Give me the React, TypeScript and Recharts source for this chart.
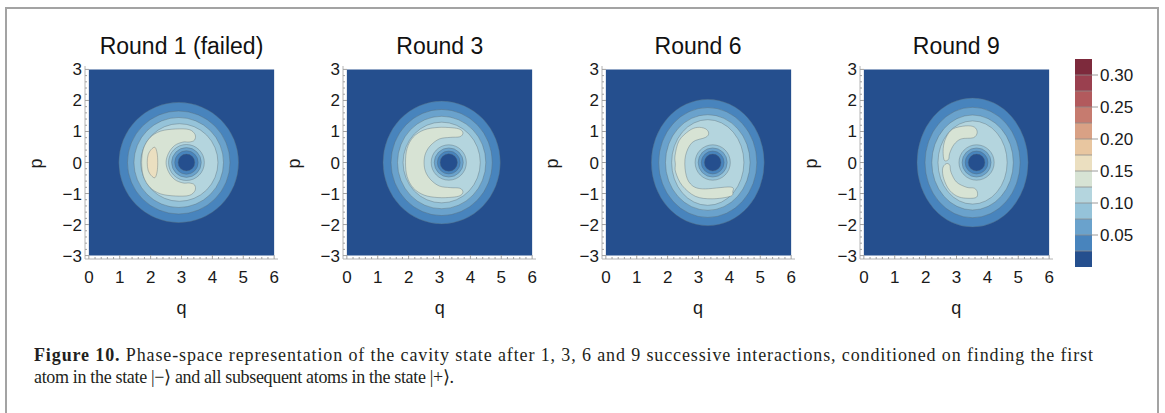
import React from 'react';
import { ScatterChart, Scatter, XAxis, YAxis, BarChart, Bar, ReferenceLine } from 'recharts';

type Pt = [number, number];
type Region = { band: number; kind: 'rect' | 'oval' | 'blob'; pts: Pt[] };

// ---- data ----
const titles = ['Round 1 (failed)', 'Round 3', 'Round 6', 'Round 9'];

const qTicks = [0, 0.2, 0.4, 0.6, 0.8, 1, 1.2, 1.4, 1.6, 1.8, 2, 2.2, 2.4, 2.6, 2.8, 3, 3.2, 3.4, 3.6, 3.8,
  4, 4.2, 4.4, 4.6, 4.8, 5, 5.2, 5.4, 5.6, 5.8, 6];
const pTicks = [-3, -2.8, -2.6, -2.4, -2.2, -2, -1.8, -1.6, -1.4, -1.2, -1, -0.8, -0.6, -0.4, -0.2, 0,
  0.2, 0.4, 0.6, 0.8, 1, 1.2, 1.4, 1.6, 1.8, 2, 2.2, 2.4, 2.6, 2.8, 3];

// contour levels of the colour bar (band i lies between levels[i] and levels[i+1])
const levels = [0, 0.025, 0.05, 0.075, 0.1, 0.125, 0.15, 0.175, 0.2, 0.225, 0.25, 0.275, 0.3, 0.325];
const barTicks = [0.05, 0.1, 0.15, 0.2, 0.25, 0.3];
const bandColors = ['#254f8e', '#4884bd', '#6aa2cc', '#95c3d9', '#b4d5de', '#d7e3d4', '#ebdfc0',
  '#e8c6a0', '#d9a185', '#c67b6f', '#b25a5d', '#9a404f', '#7d2a3c'];

const plotRange: Pt[] = [[0, -3], [6, -3], [6, 3], [0, 3]];

// ovals are given by their right, top, left and bottom extreme points
const round1: Region[] = [
  { band: 0, kind: 'rect', pts: plotRange },
  { band: 1, kind: 'oval', pts: [[4.85, 0], [2.91, 1.94], [0.97, 0], [2.91, -1.94]] },
  { band: 2, kind: 'oval', pts: [[4.57, 0], [2.91, 1.66], [1.25, 0], [2.91, -1.66]] },
  { band: 3, kind: 'oval', pts: [[4.36, 0], [2.91, 1.45], [1.46, 0], [2.91, -1.45]] },
  { band: 4, kind: 'oval', pts: [[4.18, 0], [2.93, 1.25], [1.68, 0], [2.93, -1.25]] },
  { band: 5, kind: 'blob', pts: [[1.71, 0], [1.77, 0.45], [1.98, 0.8], [2.32, 1.01], [2.81, 1.08], [3.25, 1.06],
    [3.44, 0.9], [3.42, 0.72], [3.25, 0.66], [3.05, 0.66], [2.78, 0.55], [2.58, 0.3], [2.5, 0],
    [2.58, -0.3], [2.78, -0.55], [3.05, -0.66], [3.25, -0.66], [3.42, -0.72], [3.44, -0.9], [3.25, -1.06],
    [2.81, -1.08], [2.32, -1.01], [1.98, -0.8], [1.77, -0.45]] },
  { band: 6, kind: 'blob', pts: [[1.89, 0], [1.92, 0.25], [2.02, 0.42], [2.14, 0.49], [2.21, 0.3], [2.23, 0],
    [2.21, -0.3], [2.14, -0.49], [2.02, -0.42], [1.92, -0.25]] },
  { band: 3, kind: 'oval', pts: [[3.74, 0], [3.16, 0.58], [2.58, 0], [3.16, -0.58]] },
  { band: 2, kind: 'oval', pts: [[3.64, 0], [3.16, 0.48], [2.68, 0], [3.16, -0.48]] },
  { band: 1, kind: 'oval', pts: [[3.54, 0], [3.16, 0.38], [2.78, 0], [3.16, -0.38]] },
  { band: 0, kind: 'oval', pts: [[3.43, 0], [3.16, 0.27], [2.89, 0], [3.16, -0.27]] },
];

const round3: Region[] = [
  { band: 0, kind: 'rect', pts: plotRange },
  { band: 1, kind: 'oval', pts: [[4.97, 0], [3.07, 1.98], [1.17, 0], [3.07, -1.98]] },
  { band: 2, kind: 'oval', pts: [[4.71, 0], [3.07, 1.71], [1.43, 0], [3.07, -1.71]] },
  { band: 3, kind: 'oval', pts: [[4.5, 0], [3.07, 1.49], [1.64, 0], [3.07, -1.49]] },
  { band: 4, kind: 'oval', pts: [[4.32, 0], [3.07, 1.3], [1.82, 0], [3.07, -1.3]] },
  { band: 5, kind: 'blob', pts: [[1.9, 0], [1.95, 0.45], [2.15, 0.82], [2.5, 1.05], [2.95, 1.13], [3.4, 1.12],
    [3.66, 1.07], [3.76, 0.95], [3.66, 0.83], [3.35, 0.81], [3.0, 0.76], [2.72, 0.56], [2.55, 0.3], [2.5, 0],
    [2.55, -0.3], [2.72, -0.56], [3.0, -0.76], [3.35, -0.81], [3.66, -0.83], [3.76, -0.95], [3.66, -1.07],
    [3.4, -1.12], [2.95, -1.13], [2.5, -1.05], [2.15, -0.82], [1.95, -0.45]] },
  { band: 3, kind: 'oval', pts: [[3.87, 0], [3.3, 0.57], [2.73, 0], [3.3, -0.57]] },
  { band: 2, kind: 'oval', pts: [[3.77, 0], [3.3, 0.47], [2.83, 0], [3.3, -0.47]] },
  { band: 1, kind: 'oval', pts: [[3.67, 0], [3.3, 0.37], [2.93, 0], [3.3, -0.37]] },
  { band: 0, kind: 'oval', pts: [[3.58, 0], [3.3, 0.28], [3.02, 0], [3.3, -0.28]] },
];

const round6: Region[] = [
  { band: 0, kind: 'rect', pts: plotRange },
  { band: 1, kind: 'oval', pts: [[5.13, 0], [3.3, 2.04], [1.47, 0], [3.3, -2.04]] },
  { band: 2, kind: 'oval', pts: [[4.89, 0], [3.3, 1.77], [1.71, 0], [3.3, -1.77]] },
  { band: 3, kind: 'oval', pts: [[4.67, 0], [3.3, 1.54], [1.93, 0], [3.3, -1.54]] },
  { band: 4, kind: 'oval', pts: [[4.47, 0], [3.3, 1.38], [2.13, 0], [3.3, -1.38]] },
  { band: 5, kind: 'blob', pts: [[2.25, -0.05], [2.24, 0.22], [2.37, 0.7], [2.69, 1.02], [2.96, 1.13], [3.22, 1.09],
    [3.33, 0.95], [3.23, 0.81], [2.8, 0.65], [2.58, 0.22], [2.58, -0.31], [2.74, -0.69], [3.12, -0.85],
    [4.03, -0.79], [4.11, -0.94], [4.03, -1.09], [3.44, -1.17], [2.9, -1.09], [2.47, -0.74], [2.26, -0.31]] },
  { band: 3, kind: 'oval', pts: [[4.03, 0], [3.46, 0.57], [2.89, 0], [3.46, -0.57]] },
  { band: 2, kind: 'oval', pts: [[3.93, 0], [3.46, 0.47], [2.99, 0], [3.46, -0.47]] },
  { band: 1, kind: 'oval', pts: [[3.83, 0], [3.46, 0.37], [3.09, 0], [3.46, -0.37]] },
  { band: 0, kind: 'oval', pts: [[3.73, 0], [3.46, 0.27], [3.19, 0], [3.46, -0.27]] },
];

const round9: Region[] = [
  { band: 0, kind: 'rect', pts: plotRange },
  { band: 1, kind: 'oval', pts: [[5.32, 0], [3.52, 2.08], [1.72, 0], [3.52, -2.08]] },
  { band: 2, kind: 'oval', pts: [[5.06, 0], [3.52, 1.78], [1.98, 0], [3.52, -1.78]] },
  { band: 3, kind: 'oval', pts: [[4.84, 0], [3.52, 1.53], [2.2, 0], [3.52, -1.53]] },
  { band: 4, kind: 'oval', pts: [[4.64, 0], [3.52, 1.34], [2.4, 0], [3.52, -1.34]] },
  { band: 5, kind: 'blob', pts: [[2.6, 0.08], [2.57, 0.45], [2.66, 0.8], [2.88, 1.08], [3.3, 1.18], [3.58, 1.14],
    [3.67, 0.97], [3.55, 0.8], [3.15, 0.76], [2.92, 0.58], [2.78, 0.3], [2.74, 0.1]] },
  { band: 5, kind: 'blob', pts: [[2.66, -0.04], [2.78, -0.08], [2.82, -0.31], [3.0, -0.63], [3.33, -0.8],
    [3.58, -0.83], [3.68, -0.98], [3.6, -1.14], [3.11, -1.12], [2.78, -0.9], [2.59, -0.53], [2.55, -0.2]] },
  { band: 3, kind: 'oval', pts: [[4.22, 0], [3.65, 0.57], [3.08, 0], [3.65, -0.57]] },
  { band: 2, kind: 'oval', pts: [[4.12, 0], [3.65, 0.47], [3.18, 0], [3.65, -0.47]] },
  { band: 1, kind: 'oval', pts: [[4.02, 0], [3.65, 0.37], [3.28, 0], [3.65, -0.37]] },
  { band: 0, kind: 'oval', pts: [[3.92, 0], [3.65, 0.27], [3.38, 0], [3.65, -0.27]] },
];

const panels = [round1, round3, round6, round9];
const frameLeft = [85, 343.3, 601.6, 859.8];

// ---- drawing helpers ----
const SANS = '"Liberation Sans", Arial, Helvetica, sans-serif';
const SERIF = '"Liberation Serif", "Times New Roman", serif';
const FRAME = '#b4b4b4';
const TICKC = '#a0a0a0';
const LINE = '#55636b';

const fmt = (v: number) => (v < 0 ? '\u2212' + Math.abs(v) : String(v));

type XY = { x: number; y: number };

function ovalPath(p: XY[]) {
  const [e, n, w, s] = p;
  const cx = (e.x + w.x) / 2;
  const cy = (n.y + s.y) / 2;
  const rx = (e.x - w.x) / 2;
  const ry = (s.y - n.y) / 2;
  const a = `A${rx},${ry} 0 0 0`;
  return `M${e.x},${cy}${a} ${cx},${n.y}${a} ${w.x},${cy}${a} ${cx},${s.y}${a} ${e.x},${cy}Z`;
}

function smoothPath(p: XY[]) {
  const n = p.length;
  let d = `M${p[0].x},${p[0].y}`;
  for (let i = 0; i < n; i++) {
    const p0 = p[(i - 1 + n) % n];
    const p1 = p[i];
    const p2 = p[(i + 1) % n];
    const p3 = p[(i + 2) % n];
    d += `C${p1.x + (p2.x - p0.x) / 6},${p1.y + (p2.y - p0.y) / 6} ${p2.x - (p3.x - p1.x) / 6},${
      p2.y - (p3.y - p1.y) / 6} ${p2.x},${p2.y}`;
  }
  return d + 'Z';
}

function polyPath(p: XY[]) {
  return 'M' + p.map((pt) => `${pt.x},${pt.y}`).join('L') + 'Z';
}

const Empty = () => <g />;

function FrameTick(props: any) {
  const { x, y, payload, side } = props;
  const v = payload.value as number;
  const major = Number.isInteger(v);
  const len = major ? 4 : 2;
  const textStyle = { fontFamily: SANS, fontSize: 17, fill: '#1a1a1a' };
  if (side === 'bottom') {
    return (
      <g>
        <line x1={x} y1={y} x2={x} y2={y - len} stroke={TICKC} />
        {major && <text x={x} y={y + 23.5} textAnchor="middle" style={textStyle}>{fmt(v)}</text>}
      </g>
    );
  }
  if (side === 'top') return <line x1={x} y1={y} x2={x} y2={y + len} stroke={TICKC} />;
  if (side === 'left') {
    return (
      <g>
        <line x1={x} y1={y} x2={x + len} y2={y} stroke={TICKC} />
        {major && <text x={x - 3} y={y + 6} textAnchor="end" style={textStyle}>{fmt(v)}</text>}
      </g>
    );
  }
  return <line x1={x} y1={y} x2={x - len} y2={y} stroke={TICKC} />;
}

function Panel({ regions, left }: { regions: Region[]; left: number }) {
  return (
    <div style={{ position: 'absolute', left: left - 60, top: 0 }}>
      <ScatterChart width={258} height={319} margin={{ top: 66, right: 5, bottom: 0, left: 0 }}>
        <XAxis type="number" dataKey="q" domain={[-0.125, 6.125]} ticks={qTicks} interval={0}
          tickSize={0} tickMargin={0} tickLine={false} axisLine={{ stroke: FRAME }} height={60}
          tick={(p: any) => <FrameTick {...p} side="bottom" />} />
        <XAxis xAxisId="top" orientation="top" type="number" dataKey="q" domain={[-0.125, 6.125]}
          ticks={qTicks} interval={0} tickSize={0} tickMargin={0} tickLine={false}
          axisLine={{ stroke: FRAME }} height={0} tick={(p: any) => <FrameTick {...p} side="top" />} />
        <YAxis type="number" dataKey="p" domain={[-3.11, 3.11]} ticks={pTicks} interval={0}
          tickSize={0} tickMargin={0} tickLine={false} axisLine={{ stroke: FRAME }} width={60}
          tick={(p: any) => <FrameTick {...p} side="left" />} />
        <YAxis yAxisId="right" orientation="right" type="number" dataKey="p" domain={[-3.11, 3.11]}
          ticks={pTicks} interval={0} tickSize={0} tickMargin={0} tickLine={false}
          axisLine={{ stroke: FRAME }} width={0} tick={(p: any) => <FrameTick {...p} side="right" />} />
        {regions.map((r, k) => (
          <Scatter
            key={k}
            data={r.pts.map(([q, p]) => ({ q, p }))}
            shape={Empty}
            isAnimationActive={false}
            lineType="joint"
            line={(lp: any) => {
              const pts: XY[] = lp.points;
              const d = r.kind === 'oval' ? ovalPath(pts) : r.kind === 'blob' ? smoothPath(pts) : polyPath(pts);
              return (
                <path d={d} fill={bandColors[r.band]} stroke={r.kind === 'rect' ? 'none' : LINE}
                  strokeWidth={0.6} strokeOpacity={0.6} />
              );
            }}
          />
        ))}
      </ScatterChart>
    </div>
  );
}

const barRow = [
  levels.slice(1).reduce((acc: Record<string, any>, lv, i) => {
    acc['b' + i] = lv - levels[i];
    return acc;
  }, { name: 'bar' }),
];

function ColorBar() {
  return (
    <div style={{ position: 'absolute', left: 1075, top: 0 }}>
      <BarChart width={87} height={267} data={barRow} margin={{ top: 59, right: 0, bottom: 0, left: 0 }}
        barCategoryGap={0} barGap={0}>
        <XAxis dataKey="name" hide />
        <YAxis orientation="right" type="number" domain={[0, 0.325]} ticks={barTicks} width={70}
          tickFormatter={(v: number) => v.toFixed(2)} tickSize={6} tickMargin={2} axisLine={false}
          tickLine={{ stroke: '#9a9a9a' }} tick={{ fill: '#1a1a1a', fontSize: 17, fontFamily: SANS }}
          interval={0} allowDataOverflow />
        {bandColors.map((c, i) => (
          <Bar key={i} dataKey={'b' + i} stackId="s" fill={c} isAnimationActive={false} />
        ))}
        {levels.slice(1, -1).map((lv) => (
          <ReferenceLine key={lv} y={lv} stroke="#8e8e8e" strokeWidth={0.8} />
        ))}
      </BarChart>
    </div>
  );
}

export default function App() {
  return (
    <div style={{ position: 'fixed', left: 0, top: 0, width: 1165, height: 413, background: '#fff', overflow: 'hidden' }}>
      <div style={{ position: 'absolute', left: 5, top: 7, width: 1154, height: 430, boxSizing: 'border-box',
        border: '2px solid #a3a3a3' }} />
      {panels.map((r, i) => (
        <Panel key={i} regions={r} left={frameLeft[i]} />
      ))}
      <ColorBar />
      <svg width={1165} height={413} style={{ position: 'absolute', left: 0, top: 0, pointerEvents: 'none' }}>
        {titles.map((t, i) => (
          <text key={t} x={frameLeft[i] + 96.5} y={53.5} textAnchor="middle"
            style={{ fontFamily: SANS, fontSize: 23, fill: '#111' }}>{t}</text>
        ))}
        {frameLeft.map((l, i) => (
          <g key={i} style={{ fontFamily: SANS, fontSize: 18, fill: '#1a1a1a' }}>
            <text x={l + 96.5} y={313.5} textAnchor="middle">q</text>
            <text x={l - 46} y={163.5} dy={2.8} textAnchor="middle" transform={`rotate(-90 ${l - 46} 163.5)`}>p</text>
          </g>
        ))}
        <g style={{ fontFamily: SERIF, fontSize: 18, fill: '#231f20' }}>
          <text x={34} y={361.4} textLength={1059} lengthAdjust="spacing">
            <tspan fontWeight="bold">Figure 10.</tspan>
            {' Phase-space representation of the cavity state after 1, 3, 6 and 9 successive interactions, conditioned on finding the first'}
          </text>
          <text x={34} y={383.3} textLength={420} lengthAdjust="spacing">
            {'atom in the state |\u2212\u27e9 and all subsequent atoms in the state |+\u27e9.'}
          </text>
        </g>
      </svg>
    </div>
  );
}
